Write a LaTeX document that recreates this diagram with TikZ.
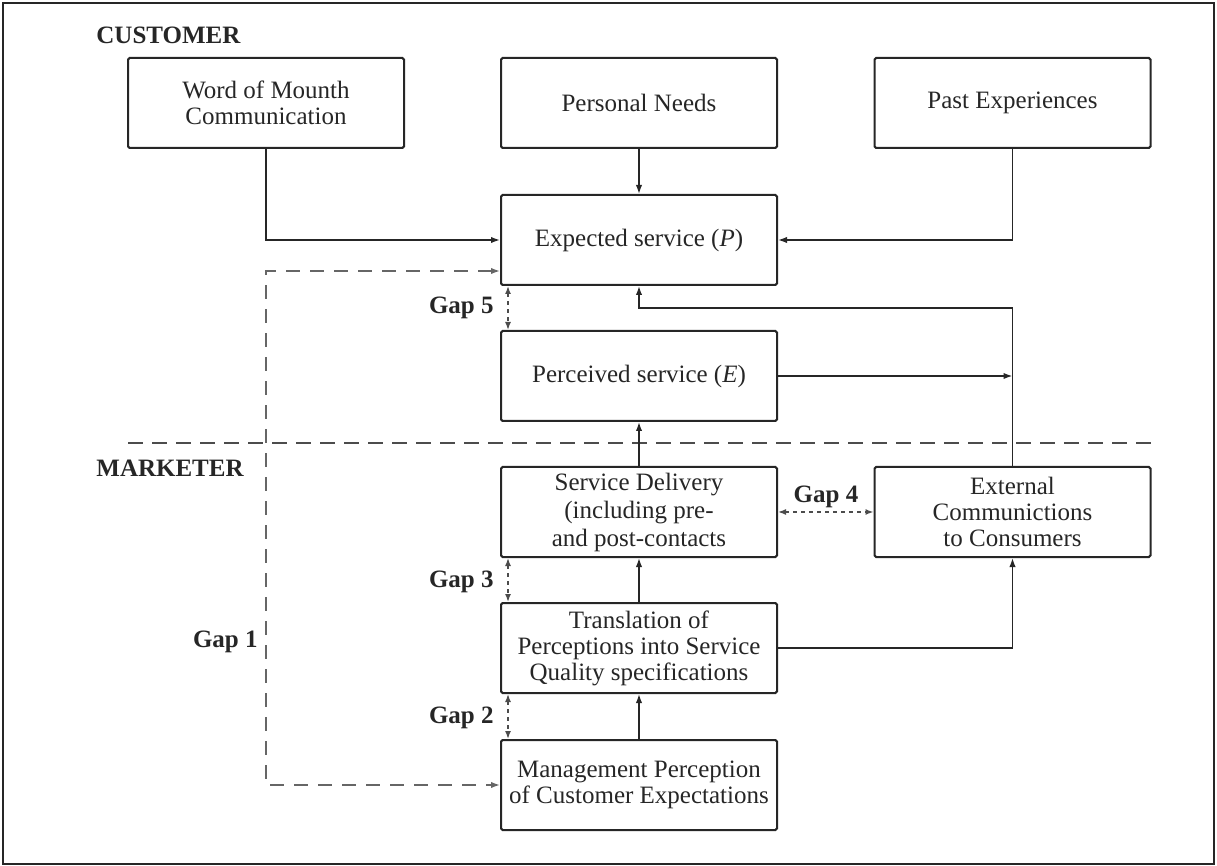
\documentclass[tikz,border=0pt]{standalone}
\usepackage{fontspec}
\setmainfont{Liberation Serif}
\usetikzlibrary{arrows.meta}
\begin{document}
\begin{tikzpicture}[x=0.5pt,y=-0.5pt,
  box/.style={draw=black!85, line width=1pt, rounded corners=0.8pt, minimum width=138pt, minimum height=45pt,
    align=center, inner sep=2pt, font=\fontsize{12.5}{13}\selectfont, text=black!85},
  conn/.style={draw=black!85, line width=0.75pt, -{Latex[length=4.5pt,width=3.2pt]}},
  gapa/.style={draw=black!70, line width=0.75pt, dash pattern=on 2pt off 2pt, {Latex[length=4pt,width=3pt]}-{Latex[length=4pt,width=3pt]}},
  gapone/.style={draw=black!60, line width=0.75pt, dash pattern=on 7pt off 5pt, {Latex[length=4.5pt,width=3.2pt]}-{Latex[length=4.5pt,width=3.2pt]}},
  gaplabel/.style={font=\fontsize{12.5}{13}\selectfont\bfseries, text=black!85, inner sep=0pt},
  head/.style={font=\fontsize{12.5}{13}\selectfont\bfseries, text=black!85, inner sep=0pt, anchor=west}]
\useasboundingbox (0,0) rectangle (1217,866);
\draw[black!85, line width=1.1pt] (3,3) rectangle (1214,864);

\node[head] (cust) at (96,35) {CUSTOMER};
\node[head] (mark) at (96,468) {MARKETER};

\node[box] (wom) at (266,103) {Word of Mounth\\Communication};
\node[box] (pn) at (639,103) {Personal Needs};
\node[box] (pe) at (1012.5,103) {Past Experiences};
\node[box] (exp) at (639,240) {Expected service (\textit{P})};
\node[box] (perc) at (639,376) {Perceived service (\textit{E})};
\node[box, font=\fontsize{12.5}{14}\selectfont] (sd) at (639,512) {Service Delivery\\(including pre-\\and post-contacts};
\node[box] (ext) at (1012.5,512) {External\\Communictions\\to Consumers};
\node[box] (tr) at (639,648) {Translation of\\Perceptions into Service\\Quality specifications};
\node[box] (mg) at (639,785) {Management Perception\\of Customer Expectations};

% separator
\draw[black!70, line width=0.75pt, dash pattern=on 7.5pt off 4.5pt] (128,443) -- (1160,443);

% connectors
\draw[conn] (wom.south) |- (exp.west);
\draw[conn] (pn.south) -- (exp.north);
\draw[conn] (pe.south) |- (exp.east);
\coordinate (j1) at (1012.5,308);
\coordinate (j2) at (639,308);
\draw[conn] (ext.north) -- (j1) -- (j2) -- (exp.south);
\draw[conn] (perc.east) -- (perc.east -| ext.north);
\draw[conn] (sd.north) -- (perc.south);
\draw[conn] (tr.north) -- (sd.south);
\draw[conn] (mg.north) -- (tr.south);
\draw[conn] (tr.east) -| (ext.south);

% gaps
\draw[gapone] ([yshift=7.5pt]exp.south west) -| (wom.south |- mg.west) -- (mg.west);
\draw[gapa] ([xshift=4pt]exp.south west) -- ([xshift=4pt]perc.north west);
\draw[gapa] ([xshift=4pt]sd.south west) -- ([xshift=4pt]tr.north west);
\draw[gapa] ([xshift=4pt]tr.south west) -- ([xshift=4pt]mg.north west);
\draw[gapa] (sd.east) -- (ext.west);

\node[gaplabel, anchor=east] (g1) at (258,642) {Gap 1};
\node[gaplabel, anchor=east] (g2) at (494,718) {Gap 2};
\node[gaplabel, anchor=east] (g3) at (494,582) {Gap 3};
\node[gaplabel] (g4) at (826,497) {Gap 4};
\node[gaplabel, anchor=east] (g5) at (494,308) {Gap 5};
\end{tikzpicture}
\end{document}
